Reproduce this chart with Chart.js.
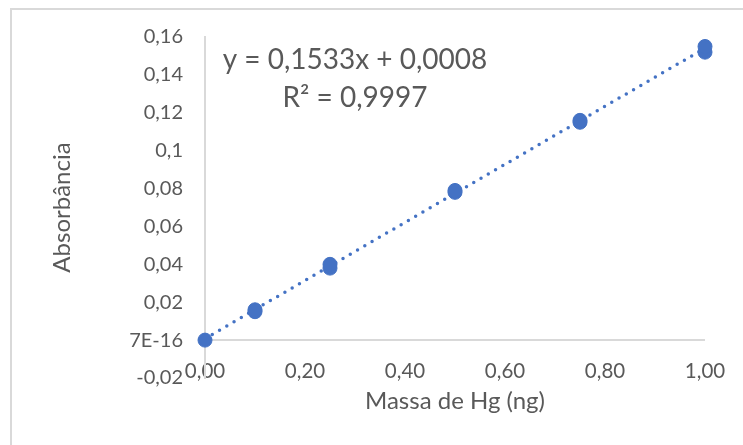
<!DOCTYPE html>
<html><head><meta charset="utf-8">
<script src="https://cdn.jsdelivr.net/npm/chart.js@4"></script>
<style>html,body{margin:0;padding:0;background:#fff;} #wrap{width:743px;height:445px;position:relative;}</style>
</head><body><div id="wrap"><canvas id="c" width="743" height="445"></canvas></div>
<script>
const massX = [0, 0.1, 0.1, 0.25, 0.25, 0.5, 0.5, 0.75, 0.75, 1, 1];
const absorbance = [0.000, 0.015, 0.016, 0.038, 0.040, 0.078, 0.079, 0.115, 0.116, 0.152, 0.155];
const trendSlope = 0.1533;
const trendIntercept = 0.0008;
const trendRange = [0, 1];
const xTickLabels = ['0,00','0,20','0,40','0,60','0,80','1,00'];
const yTickLabels = ['-0,02','7E-16','0,02','0,04','0,06','0,08','0,1','0,12','0,14','0,16'];
const eqLines = ['y = 0,1533x + 0,0008', 'R\u00B2 = 0,9997'];
const xTitle = 'Massa de Hg (ng)';
const yTitle = 'Absorb\u00E2ncia';

const TEXT = '#595959', AXIS = '#d9d9d9', BLUE = '#4472C4', FONT = 'Lato';

const pts = massX.map((x, i) => ({x: x, y: absorbance[i]}));
const trend = trendRange.map(x => ({x: x, y: trendSlope * x + trendIntercept}));

const decor = {
  id: 'decor',
  beforeDraw(chart) {
    const ctx = chart.ctx;
    ctx.save();
    ctx.fillStyle = '#fff';
    ctx.fillRect(0, 0, chart.width, chart.height);
    ctx.fillStyle = AXIS;
    ctx.fillRect(10, 8, chart.width - 10, 2);
    ctx.fillRect(10, 8, 2, chart.height - 8);
    ctx.restore();
  },
  afterDraw(chart) {
    const ctx = chart.ctx;
    ctx.save();
    ctx.fillStyle = TEXT;
    ctx.font = '28px ' + FONT;
    ctx.textAlign = 'center';
    ctx.textBaseline = 'alphabetic';
    ctx.fillText(eqLines[0], 355, 69);
    ctx.fillText(eqLines[1], 355, 107);
    ctx.restore();
  }
};

new Chart(document.getElementById('c'), {
  type: 'scatter',
  data: {
    datasets: [
      {
        data: pts,
        backgroundColor: BLUE,
        borderColor: BLUE,
        pointRadius: 7,
        pointBorderWidth: 1,
        clip: false
      },
      {
        type: 'line',
        data: trend,
        borderColor: BLUE,
        borderWidth: 3.5,
        borderDash: [0, 8.4],
        borderCapStyle: 'round',
        pointRadius: 0,
        fill: false,
        clip: false
      }
    ]
  },
  options: {
    responsive: false,
    animation: false,
    layout: {padding: {left: 48, right: 38, top: 37, bottom: 29}},
    plugins: {legend: {display: false}, tooltip: {enabled: false}},
    scales: {
      x: {
        type: 'linear',
        min: 0, max: 1,
        afterFit(s) { s.height = 38; s._computeLabelArea = function () { return null; }; },
        ticks: {
          stepSize: 0.2,
          padding: -19,
          maxRotation: 0,
          minRotation: 0,
          autoSkip: false,
          color: TEXT,
          font: {family: FONT, size: 20.5},
          callback: (v, i) => xTickLabels[i]
        },
        grid: {display: false, drawTicks: false},
        border: {display: false},
        title: {display: true, text: xTitle, color: TEXT, font: {family: FONT, size: 24}, padding: 0}
      },
      y: {
        min: -0.02, max: 0.16,
        afterFit(s) { s.width = 157; },
        ticks: {
          stepSize: 0.02,
          padding: 22,
          color: TEXT,
          font: {family: FONT, size: 20},
          callback: (v, i) => yTickLabels[i]
        },
        grid: {
          drawTicks: false,
          lineWidth: 2,
          color: c => c.index === 1 ? AXIS : 'rgba(0,0,0,0)'
        },
        border: {display: true, color: AXIS, width: 2},
        title: {display: true, text: yTitle, color: TEXT, font: {family: FONT, size: 24}, padding: 0}
      }
    }
  },
  plugins: [decor]
});
</script>
</body></html>
